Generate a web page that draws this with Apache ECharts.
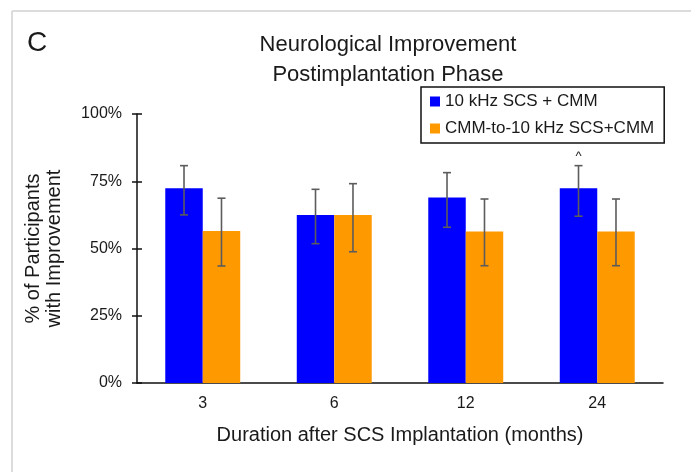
<!DOCTYPE html>
<html>
<head>
<meta charset="utf-8">
<script src="https://cdn.jsdelivr.net/npm/echarts@6/dist/echarts.min.js"></script>
<style>
  html, body { margin: 0; padding: 0; background: #fff; }
  #chart { width: 691px; height: 472px; }
</style>
</head>
<body>
<div id="chart"></div>
<script>
// Months after implantation
const categories = ['3', '6', '12', '24'];
const seriesNames = ['10 kHz SCS + CMM', 'CMM-to-10 kHz SCS+CMM'];

// Percent of participants with neurological improvement
const scsValues = [72.4, 62.5, 69.0, 72.4];
const scsLow = [62.5, 51.8, 57.9, 62.0];
const scsHigh = [80.8, 72.0, 78.2, 80.8];
const scsMarks = ['', '', '', '^'];

const cmmValues = [56.5, 62.5, 56.3, 56.3];
const cmmLow = [43.5, 48.8, 43.6, 43.6];
const cmmHigh = [68.7, 74.1, 68.4, 68.4];
const cmmMarks = ['', '', '', ''];

const yTicks = [0, 25, 50, 75, 100];

const FONT = 'Liberation Sans, Arial, sans-serif';
const TXT = '#1a1a1a';
const BAR_FRAC = 0.285; // bar width as a share of the category band

function errorSeries(low, high, marks, side) {
  return {
    type: 'custom',
    z: 5,
    data: categories.map((c, i) => [i, low[i], high[i], marks[i]]),
    renderItem: function (params, api) {
      const i = api.value(0);
      const band = api.size([1, 0])[0];
      const shift = side * band * BAR_FRAC / 2;
      const pLo = api.coord([i, api.value(1)]);
      const pHi = api.coord([i, api.value(2)]);
      const x = pLo[0] + shift;
      const cap = 4;
      const style = { stroke: '#5c5c5c', lineWidth: 1.6 };
      const children = [
        { type: 'line', shape: { x1: x, y1: pLo[1], x2: x, y2: pHi[1] }, style },
        { type: 'line', shape: { x1: x - cap, y1: pLo[1], x2: x + cap, y2: pLo[1] }, style },
        { type: 'line', shape: { x1: x - cap, y1: pHi[1], x2: x + cap, y2: pHi[1] }, style }
      ];
      const mark = marks[i];
      if (mark) {
        children.push({
          type: 'text',
          style: { text: mark, x: x, y: pHi[1] - 3, textAlign: 'center', textVerticalAlign: 'bottom',
                   fontSize: 13, fontFamily: FONT, fill: TXT }
        });
      }
      return { type: 'group', children };
    }
  };
}

const chart = echarts.init(document.getElementById('chart'), null, { renderer: 'canvas' });

chart.setOption({
  animation: false,
  backgroundColor: '#fff',
  textStyle: { fontFamily: FONT, color: TXT },
  graphic: [
    { type: 'line', shape: { x1: 12, y1: 11, x2: 12, y2: 472 }, style: { stroke: '#dcdcdc', lineWidth: 2 } },
    { type: 'line', shape: { x1: 12, y1: 11, x2: 691, y2: 11 }, style: { stroke: '#dcdcdc', lineWidth: 2 } }
  ],
  title: [
    {
      text: 'Neurological Improvement\nPostimplantation Phase',
      left: 383, top: 25, textAlign: 'center',
      textStyle: { fontSize: 22, fontWeight: 'normal', lineHeight: 30, color: TXT, fontFamily: FONT }
    },
    {
      text: 'C', left: 22, top: 24,
      textStyle: { fontSize: 28, fontWeight: 'normal', color: TXT, fontFamily: FONT }
    }
  ],
  legend: {
    orient: 'vertical',
    left: 421, top: 87,
    data: seriesNames,
    icon: 'rect',
    itemWidth: 10, itemHeight: 10,
    itemGap: 10,
    padding: [6, 10, 6, 9],
    borderColor: '#111', borderWidth: 1.5,
    textStyle: { fontSize: 17, color: TXT, fontFamily: FONT }
  },
  grid: { left: 137, right: 28, top: 114, bottom: 89, containLabel: false },
  xAxis: [
    {
      type: 'category', data: categories,
      axisLine: { lineStyle: { color: '#111', width: 1.5 } },
      axisTick: { length: 5, lineStyle: { color: '#111', width: 1.5 } },
      axisLabel: { fontSize: 16, color: TXT, margin: 13, fontFamily: FONT },
      name: 'Duration after SCS Implantation (months)',
      nameLocation: 'middle', nameGap: 42,
      nameTextStyle: { fontSize: 20, color: TXT, fontFamily: FONT }
    },
    {
      type: 'category', data: categories, position: 'bottom', offset: 0,
      axisLine: { show: false },
      axisTick: { inside: true, length: 5, lineStyle: { color: '#111', width: 1.5 } },
      axisLabel: { show: false }
    }
  ],
  yAxis: [
    {
      type: 'value', min: yTicks[0], max: yTicks[yTicks.length - 1], interval: 25,
      axisLine: { show: true, lineStyle: { color: '#111', width: 1.5 } },
      axisTick: { show: true, length: 5, lineStyle: { color: '#111', width: 1.5 } },
      splitLine: { show: false },
      axisLabel: { fontSize: 16, color: TXT, margin: 15, formatter: '{value}%', fontFamily: FONT },
      name: '% of Participants\nwith Improvement',
      nameLocation: 'middle', nameRotate: 90, nameGap: 72,
      nameTextStyle: { fontSize: 20, lineHeight: 21, color: TXT, fontFamily: FONT }
    },
    {
      type: 'value', min: yTicks[0], max: yTicks[yTicks.length - 1], interval: 25,
      position: 'left', offset: 0,
      axisLine: { show: false },
      axisTick: { show: true, inside: true, length: 5, lineStyle: { color: '#111', width: 1.5 } },
      splitLine: { show: false },
      axisLabel: { show: false }
    }
  ],
  series: [
    {
      name: seriesNames[0], type: 'bar', data: scsValues,
      barWidth: (BAR_FRAC * 100) + '%', barGap: '0%',
      itemStyle: { color: '#0000ff' }
    },
    {
      name: seriesNames[1], type: 'bar', data: cmmValues,
      barWidth: (BAR_FRAC * 100) + '%', barGap: '0%',
      itemStyle: { color: '#ff9900' }
    },
    errorSeries(scsLow, scsHigh, scsMarks, -1),
    errorSeries(cmmLow, cmmHigh, cmmMarks, 1)
  ]
});
</script>
</body>
</html>
